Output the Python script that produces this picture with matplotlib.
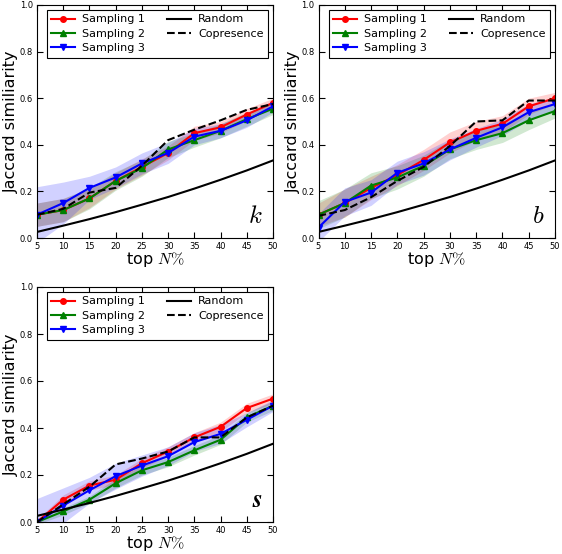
import matplotlib
matplotlib.use("Agg")
import matplotlib.pyplot as plt
import numpy as np

plt.rcParams['mathtext.fontset'] = 'cm'
plt.rcParams['font.family'] = ['DejaVu Sans']

top_n = [5, 10, 15, 20, 25, 30, 35, 40, 45, 50]
random_line = [0.026, 0.053, 0.081, 0.111, 0.143, 0.176, 0.212, 0.250, 0.290, 0.333]

# panel k
k_s1 = [0.10, 0.12, 0.17, 0.245, 0.305, 0.365, 0.45, 0.475, 0.53, 0.58]
k_s2 = [0.10, 0.12, 0.17, 0.245, 0.30, 0.38, 0.42, 0.46, 0.51, 0.555]
k_s3 = [0.10, 0.15, 0.215, 0.26, 0.32, 0.365, 0.435, 0.46, 0.505, 0.565]
k_cop = [0.10, 0.125, 0.195, 0.215, 0.31, 0.42, 0.465, 0.505, 0.55, 0.575]
k_e1 = [0.05, 0.05, 0.04, 0.035, 0.035, 0.03, 0.03, 0.025, 0.025, 0.02]
k_e2 = [0.05, 0.05, 0.045, 0.04, 0.035, 0.035, 0.03, 0.03, 0.03, 0.025]
k_e3 = [0.12, 0.09, 0.05, 0.045, 0.045, 0.045, 0.035, 0.03, 0.03, 0.025]

# panel b
b_s1 = [0.10, 0.15, 0.215, 0.27, 0.335, 0.41, 0.46, 0.49, 0.565, 0.60]
b_s2 = [0.10, 0.15, 0.225, 0.26, 0.31, 0.38, 0.42, 0.45, 0.505, 0.545]
b_s3 = [0.045, 0.155, 0.195, 0.28, 0.32, 0.38, 0.43, 0.475, 0.54, 0.575]
b_cop = [0.095, 0.12, 0.175, 0.245, 0.305, 0.395, 0.50, 0.505, 0.59, 0.59]
b_e1 = [0.05, 0.06, 0.05, 0.045, 0.045, 0.045, 0.04, 0.035, 0.035, 0.025]
b_e2 = [0.06, 0.06, 0.055, 0.05, 0.045, 0.04, 0.04, 0.04, 0.04, 0.03]
b_e3 = [0.06, 0.06, 0.055, 0.05, 0.05, 0.045, 0.04, 0.035, 0.035, 0.03]

# panel s
s_s1 = [0.0, 0.095, 0.155, 0.18, 0.25, 0.30, 0.36, 0.405, 0.485, 0.525]
s_s2 = [0.0, 0.045, 0.095, 0.165, 0.22, 0.255, 0.305, 0.35, 0.445, 0.495]
s_s3 = [0.0, 0.07, 0.135, 0.195, 0.24, 0.28, 0.34, 0.375, 0.435, 0.495]
s_cop = [0.0, 0.075, 0.15, 0.245, 0.27, 0.30, 0.36, 0.36, 0.445, 0.495]
s_e1 = [0.01, 0.02, 0.02, 0.02, 0.02, 0.02, 0.02, 0.02, 0.02, 0.02]
s_e2 = [0.01, 0.015, 0.015, 0.02, 0.02, 0.02, 0.02, 0.02, 0.02, 0.02]
s_e3 = [0.10, 0.075, 0.055, 0.055, 0.045, 0.04, 0.04, 0.04, 0.03, 0.025]

panels = [
    ("k", k_s1, k_s2, k_s3, k_cop, k_e1, k_e2, k_e3, [37, 5, 273, 238]),
    ("b", b_s1, b_s2, b_s3, b_cop, b_e1, b_e2, b_e3, [318.5, 5, 555, 238]),
    ("s", s_s1, s_s2, s_s3, s_cop, s_e1, s_e2, s_e3, [37, 287, 273, 522]),
]

W, H = 562, 554
fig = plt.figure(figsize=(W / 100, H / 100), dpi=100)

for name, s1, s2, s3, cop, e1, e2, e3, box in panels:
    x0, y0, x1, y1 = box
    ax = fig.add_axes([x0 / W, 1 - y1 / H, (x1 - x0) / W, (y1 - y0) / H])
    x = np.array(top_n)
    for vals, err, col, mk, lab in [(s1, e1, 'red', 'o', 'Sampling 1'),
                                     (s2, e2, 'green', '^', 'Sampling 2'),
                                     (s3, e3, 'blue', 'v', 'Sampling 3')]:
        v = np.array(vals); e = np.array(err)
        ax.fill_between(x, v - e, v + e, color=col, alpha=0.18, linewidth=0)
        ax.plot(x, v, color=col, marker=mk, markersize=4, linewidth=1.5,
                markeredgecolor=col, label=lab)
    ax.plot(x, random_line, color='black', linewidth=1.5, label='Random')
    ax.plot(x, cop, color='black', linestyle='--', linewidth=1.5, label='Copresence')
    ax.set_xlim(5, 50)
    ax.set_ylim(0, 1.0)
    ax.set_xticks(top_n)
    ax.set_yticks([0.0, 0.2, 0.4, 0.6, 0.8, 1.0])
    ax.tick_params(direction='in', top=True, right=True, labelsize=6, length=4, pad=3)
    ax.set_xlabel(r'top $N\%$', fontsize=11.5, labelpad=-1)
    ax.set_ylabel('Jaccard similiarity', fontsize=11.5, labelpad=0.5)
    label = r'$\boldsymbol{s}$' if name == 's' else r'$%s$' % name
    ax.text(0.955, 0.065, label, transform=ax.transAxes, fontsize=18,
            ha='right', va='baseline')
    leg = ax.legend(loc='upper right', ncol=2, fontsize=8, fancybox=False,
                    framealpha=1, edgecolor='black', handlelength=2.15,
                    borderaxespad=0.45, columnspacing=2.0, handletextpad=0.63,
                    labelspacing=0.4, borderpad=0.4)
    leg.get_frame().set_linewidth(0.8)

fig.savefig('out.png', dpi=100)
